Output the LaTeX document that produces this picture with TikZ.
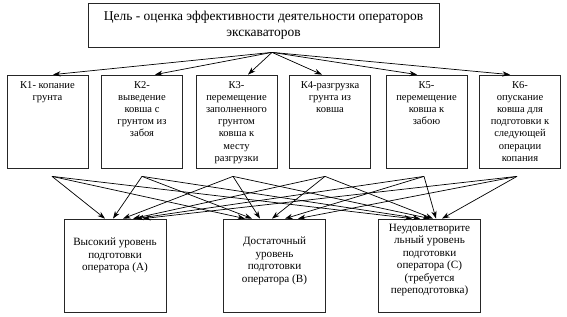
\documentclass[tikz,border=0pt]{standalone}
\usepackage{fontspec}
\setmainfont{Liberation Serif}
\usetikzlibrary{calc, arrows.meta}

\begin{document}
\begin{tikzpicture}[>={Stealth[length=6.5pt, width=4.5pt]}, x=0.03cm, y=-0.03cm,
    frame/.style={draw=black!85, line width=0.65pt, inner sep=0pt},
    link/.style={->, line width=0.6pt}]
    \useasboundingbox (0,0) rectangle (567,317);

    % Goal
    \node[frame, minimum width=10.53cm, minimum height=1.32cm, align=center,
          font=\fontsize{11.5}{13.6}\selectfont] (goal) at (263.5,25)
        {Цель - оценка эффективности деятельности операторов\\экскаваторов};
    \coordinate (top) at ($(goal.south)+(8.5,5)$);

    % Operations K1..K6
    \foreach \i/\x/\txt in {1/47.5/{К1- копание\\грунта},
                            2/142/{К2-\\выведение\\ковша с\\грунтом из\\забоя},
                            3/236.5/{К3-\\перемещение\\заполненного\\грунтом\\ковша к\\месту\\разгрузки},
                            4/330/{К4-разгрузка\\грунта из\\ковша},
                            5/426.5/{К5-\\перемещение\\ковша к\\забою},
                            6/520/{К6-\\опускание\\ковша для\\подготовки к\\следующей\\операции\\копания}} {
        \node[frame, minimum width=2.43cm, minimum height=2.79cm] (K\i) at (\x,121.5) {};
        \node[anchor=north, inner sep=0pt, align=center,
              font=\fontsize{9}{10.4}\selectfont] (K\i txt) at (\x,81) {\txt};
    }

    % Levels
    \foreach \n/\x/\ty/\txt in {A/115/255.5/{Высокий уровень\\подготовки\\оператора (A)},
                                B/274.5/261/{Достаточный\\уровень\\подготовки\\оператора (B)},
                                C/429.5/260/{Неудовлетворите\\льный уровень\\подготовки\\оператора (C)\\(требуется\\переподготовка)}} {
        \node[frame, minimum width=3.06cm, minimum height=2.79cm] (\n) at (\x,265.5) {};
        \node[inner sep=0pt, align=center,
              font=\fontsize{9.5}{10.6}\selectfont] (\n txt) at (\x,\ty) {\txt};
    }

    % Goal -> operations
    \foreach \i/\dx in {1/5.5, 2/13, 3/11.5, 4/-8, 5/-9.5, 6/-10}
        \draw[link] (top) -- ($(K\i.north)+(\dx,0)$);

    % Operations -> levels
    \foreach \i/\sx/\da/\db/\dc in {1/4.5/-10/-29.5/-17.5, 2/0/-2/-22.5/-9.5,
                                    3/-3.5/8/-14.5/0.5, 4/-5/18/-2.5/3.5,
                                    5/-2.5/21/10.5/6.5, 6/-3/28/23.5/12.5} {
        \coordinate (s\i) at ($(K\i.south)+(\sx,8)$);
        \draw[link] (s\i) -- ($(A.north)+(\da,0)$);
        \draw[link] (s\i) -- ($(B.north)+(\db,0)$);
        \draw[link] (s\i) -- ($(C.north)+(\dc,0)$);
    }
\end{tikzpicture}
\end{document}
